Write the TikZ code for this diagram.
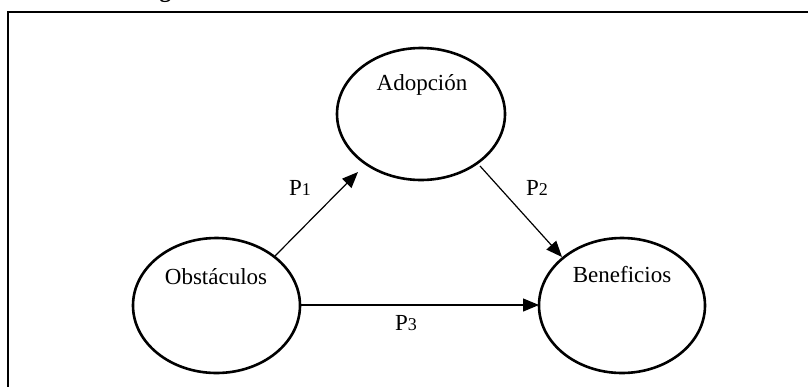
\documentclass[tikz,border=0pt]{standalone}
\usepackage{fontspec}
\setmainfont{Liberation Serif}
\usetikzlibrary{arrows.meta}
\begin{document}
\begin{tikzpicture}[x=1pt,y=-1pt,
  ctext/.style={font=\fontsize{23}{27}\selectfont,inner sep=0pt},
  link/.style={line width=1.2pt,-{Triangle[length=16pt,width=13pt]}},
  plabel/.style={font=\fontsize{23}{27}\selectfont,inner sep=0pt}]
\useasboundingbox (0,0) rectangle (808,386);
\clip (0,0) rectangle (808,386);
% caption heading, set above the page edge so only a descender remains
\node[anchor=base west,inner sep=0pt,font=\fontsize{23}{27}\selectfont\bfseries] (cap) at (139,-2.5) {Figura 1};
% enclosing frame
\draw[line width=1.8pt] (8,12) rectangle (830,400);
% constructs
\draw[line width=2.6pt] (421,114) ellipse [x radius=84, y radius=66];
\draw[line width=2.6pt] (216.5,305.5) ellipse [x radius=83.5, y radius=67.5];
\draw[line width=2.6pt] (622,305.5) ellipse [x radius=83, y radius=67.5];
\node[ctext] (adop) at (422,85) {Adopción};
\node[ctext] (obst) at (216,277) {Obstáculos};
\node[ctext] (bene) at (622,275) {Beneficios};
% anchor points on the ellipse outlines
\coordinate (o1) at (275,256);
\coordinate (a1) at (358,172);
\coordinate (a2) at (480,166);
\coordinate (b2) at (562,257);
\coordinate (o3) at (300,305);
\coordinate (b3) at (539,305);
% propositions
\draw[link] (o1) -- (a1);
\draw[link] (a2) -- (b2);
\draw[link] (o3) -- (b3);
\node[plabel] (p1) at (300,188) {P{\fontsize{18}{20}\selectfont 1}};
\node[plabel] (p2) at (537,188) {P{\fontsize{18}{20}\selectfont 2}};
\node[plabel] (p3) at (406,323) {P{\fontsize{18}{20}\selectfont 3}};
\end{tikzpicture}
\end{document}
